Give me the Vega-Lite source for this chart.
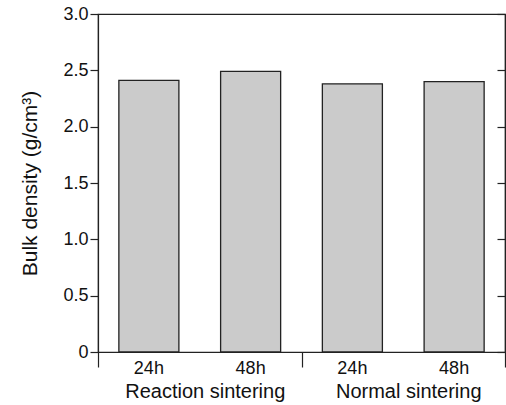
{
 "$schema": "https://vega.github.io/schema/vega-lite/v6.json",
 "width": 407, "height": 338,
 "autosize": {"type": "none"},
 "padding": {"left": 98, "top": 14, "right": 1, "bottom": 53},
 "background": "white",
 "config": {"view": {"stroke": "#222", "strokeWidth": 1.2}, "font": "Liberation Sans", "axis": {"domainColor": "#222", "domainWidth": 1.2, "tickColor": "#222", "tickWidth": 1.2, "labelColor": "#111", "titleColor": "#111", "grid": false}},
 "data": {"values": [
   {"cond": "RS 24h", "group": "Reaction sintering", "density": 2.41},
   {"cond": "RS 48h", "group": "Reaction sintering", "density": 2.49},
   {"cond": "NS 24h", "group": "Normal sintering", "density": 2.38},
   {"cond": "NS 48h", "group": "Normal sintering", "density": 2.40}
 ]},
 "layer": [
  {"mark": {"type": "bar", "fill": "#cbcbcb", "stroke": "#222", "strokeWidth": 1.3},
   "encoding": {
     "x": {"field": "cond", "type": "nominal", "sort": null, "scale": {"paddingInner": 0.41, "paddingOuter": 0.205},
           "axis": {"orient": "bottom", "title": null, "labelExpr": "substring(datum.label,3)", "labelAngle": 0, "ticks": false, "tickSize": 0, "labelPadding": 7, "labelFontSize": 18, "domain": true}},
     "y": {"field": "density", "type": "quantitative", "scale": {"domain": [0, 3], "nice": false, "zero": true},
           "axis": {"orient": "left", "values": [0, 0.5, 1, 1.5, 2, 2.5, 3], "labelExpr": "datum.value == 0 ? '0' : format(datum.value, '.1f')", "tickSize": 8, "labelPadding": 2, "labelFontSize": 18, "title": "Bulk density (g/cm³)", "titleFontSize": 21, "titleFontWeight": "normal", "titlePadding": 22}}
   }},
  {"mark": {"type": "point", "opacity": 0},
   "encoding": {
     "x": {"field": "group", "type": "nominal", "sort": null, "scale": {"type": "band", "paddingInner": 0, "paddingOuter": 0},
           "axis": {"orient": "bottom", "title": null, "tickBand": "extent", "tickSize": 15, "domain": false, "labelAngle": 0, "labelFontSize": 20, "labelPadding": 14, "labelOffset": 5}},
     "y": {"field": "density", "type": "quantitative",
           "axis": {"orient": "right", "values": [0, 0.5, 1, 1.5, 2, 2.5, 3], "labels": false, "tickSize": -8, "title": null, "domain": true}}
   }}
 ],
 "resolve": {"scale": {"x": "independent"}, "axis": {"y": "independent"}}
}
